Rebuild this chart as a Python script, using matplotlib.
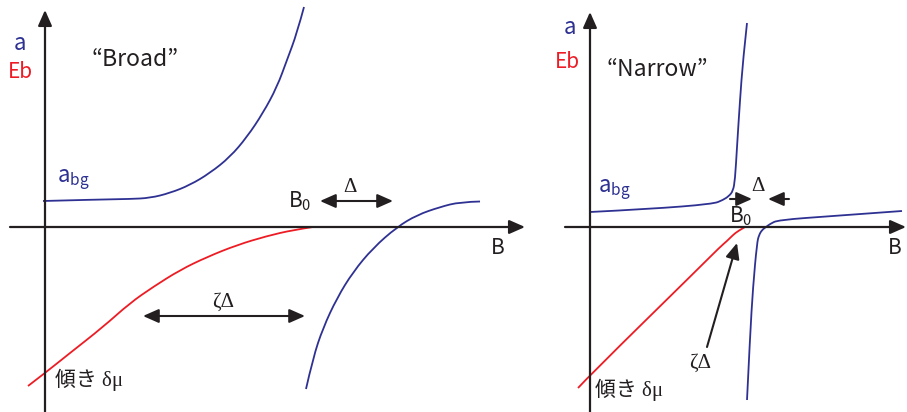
import numpy as np
import matplotlib.pyplot as plt
from matplotlib.path import Path
from matplotlib.patches import PathPatch

plt.rcParams['font.family'] = ['Noto Sans CJK JP', 'DejaVu Sans']
plt.rcParams['mathtext.fontset'] = 'custom'
plt.rcParams['mathtext.rm'] = 'Noto Sans CJK JP'
plt.rcParams['mathtext.it'] = 'Noto Sans CJK JP'

BLUE = '#2e3192'
RED = '#ed1c24'
INK = '#231f20'
GREEK = ['Liberation Serif', 'Noto Sans CJK JP']

# ---- broad resonance (B measured from the a axis, a from the B axis) ----
broad_a_B = [-2, 55, 85, 105, 125, 145, 165, 185, 202, 218, 232, 242, 252, 259]
broad_a = [26, 27.5, 28, 29, 34, 42, 54, 70, 90, 114, 140, 167, 194, 220]

broad_a2_B = [261, 268, 278, 292, 308, 328, 352, 372, 395, 415, 435]
broad_a2 = [-162, -131, -101, -71, -45, -21, 0, 12, 20, 25, 25.5]

broad_eb_B = [-17, 0, 25, 58, 85, 108, 135, 162, 192, 222, 248, 268]
broad_eb = [-159, -146, -126, -100, -76, -60, -43, -30, -18, -9, -3, 0]

# ---- narrow resonance ----
narrow_a_B = [0, 60, 123, 133, 139, 143, 145, 147, 150, 153, 157]
narrow_a = [15, 18, 23, 27, 31, 36, 47, 80, 127, 167, 204]

narrow_a2_B = [157, 160, 163, 167, 169, 172, 176, 180, 188, 243, 312]
narrow_a2 = [-173, -110, -60, -16, -8, -3, 0, 3, 7, 11, 16]

narrow_eb_B = [-12, 0, 110, 130, 137, 143, 148, 155]
narrow_eb = [-161, -148, -40, -20, -14, -8, -4, 0]


def curve(ax, xs, ys, color):
    # quadratic bezier through midpoints, so the sketch lines come out smooth
    pts = list(zip(xs, ys))
    verts = [pts[0]]
    codes = [Path.MOVETO]
    for i in range(1, len(pts) - 1):
        if i < len(pts) - 2:
            end = ((pts[i][0] + pts[i + 1][0]) / 2, (pts[i][1] + pts[i + 1][1]) / 2)
        else:
            end = pts[i + 1]
        verts += [pts[i], end]
        codes += [Path.CURVE3, Path.CURVE3]
    ax.add_patch(PathPatch(Path(verts, codes), fill=False, edgecolor=color,
                           lw=1.3, capstyle='butt'))


def arrow(ax, start, end, style='-|>', lw=1.5):
    ax.annotate('', xy=end, xytext=start,
                arrowprops=dict(arrowstyle=f'{style},head_length=0.95,head_width=0.42',
                                mutation_scale=10, lw=lw, color=INK,
                                shrinkA=0, shrinkB=0))


def frame(ax, xl, xr, ytop):
    arrow(ax, (xl, 0), (xr, 0), lw=1.6)
    arrow(ax, (0, -185), (0, ytop), lw=1.6)


fig = plt.figure(figsize=(9.07, 4.12), dpi=100)
axL = fig.add_axes([0, 0, 540 / 907, 1])
axR = fig.add_axes([545 / 907, 0, 362 / 907, 1])
axL.set_xlim(-45, 495)
axR.set_xlim(-45, 317)
for ax in (axL, axR):
    ax.set_ylim(-185, 227)
    ax.axis('off')

# left: "Broad"
frame(axL, -35, 480, 217)
curve(axL, broad_a_B, broad_a, BLUE)
curve(axL, broad_a2_B, broad_a2, BLUE)
curve(axL, broad_eb_B, broad_eb, RED)
axL.text(-25, 184, 'a', color=BLUE, fontsize=16, ha='center', va='center')
axL.text(-25, 155, 'Eb', color=RED, fontsize=15, ha='center', va='center')
axL.text(90, 167, '\u201cBroad\u201d', color=INK, fontsize=16.5, ha='center', va='center')
axL.text(12, 44, r'a$_\mathrm{bg}$', color=BLUE, fontsize=16, ha='left', va='baseline')
axL.text(243, 20, r'B$_0$', color=INK, fontsize=15, ha='left', va='baseline')
axL.text(305, 35, '\u0394', color=INK, fontsize=15, ha='center', va='baseline', family=GREEK)
arrow(axL, (275, 26), (348, 26), style='<|-|>')
axL.text(178, -80, '\u03b6\u0394', color=INK, fontsize=15, ha='center', va='baseline', family=GREEK)
arrow(axL, (98, -89), (260, -89), style='<|-|>')
axL.text(10, -153, '傾き \u03b4\u03bc', color=INK, fontsize=15, ha='left', va='center', family=GREEK)
axL.text(453, -21, 'B', color=INK, fontsize=15, ha='center', va='center')

# right: "Narrow"
frame(axR, -25, 316, 215)
curve(axR, narrow_a_B, narrow_a, BLUE)
curve(axR, narrow_a2_B, narrow_a2, BLUE)
curve(axR, narrow_eb_B, narrow_eb, RED)
axR.text(-20, 199, 'a', color=BLUE, fontsize=16, ha='center', va='center')
axR.text(-23, 165, 'Eb', color=RED, fontsize=15, ha='center', va='center', clip_on=False)
axR.text(67, 157, '\u201cNarrow\u201d', color=INK, fontsize=16.5, ha='center', va='center')
axR.text(8, 34, r'a$_\mathrm{bg}$', color=BLUE, fontsize=16, ha='left', va='baseline')
axR.text(139, 5, r'B$_0$', color=INK, fontsize=15, ha='left', va='baseline')
axR.text(168, 36, '\u0394', color=INK, fontsize=15, ha='center', va='baseline', family=GREEK)
arrow(axR, (140, 28), (162, 28))
arrow(axR, (199, 28), (178, 28))
arrow(axR, (117, -120), (147, -16))
axR.text(110, -141, '\u03b6\u0394', color=INK, fontsize=15, ha='center', va='baseline', family=GREEK)
axR.text(5, -163, '傾き \u03b4\u03bc', color=INK, fontsize=15, ha='left', va='center', family=GREEK)
axR.text(305, -21, 'B', color=INK, fontsize=15, ha='center', va='center')

fig.savefig('out.png', dpi=100)
